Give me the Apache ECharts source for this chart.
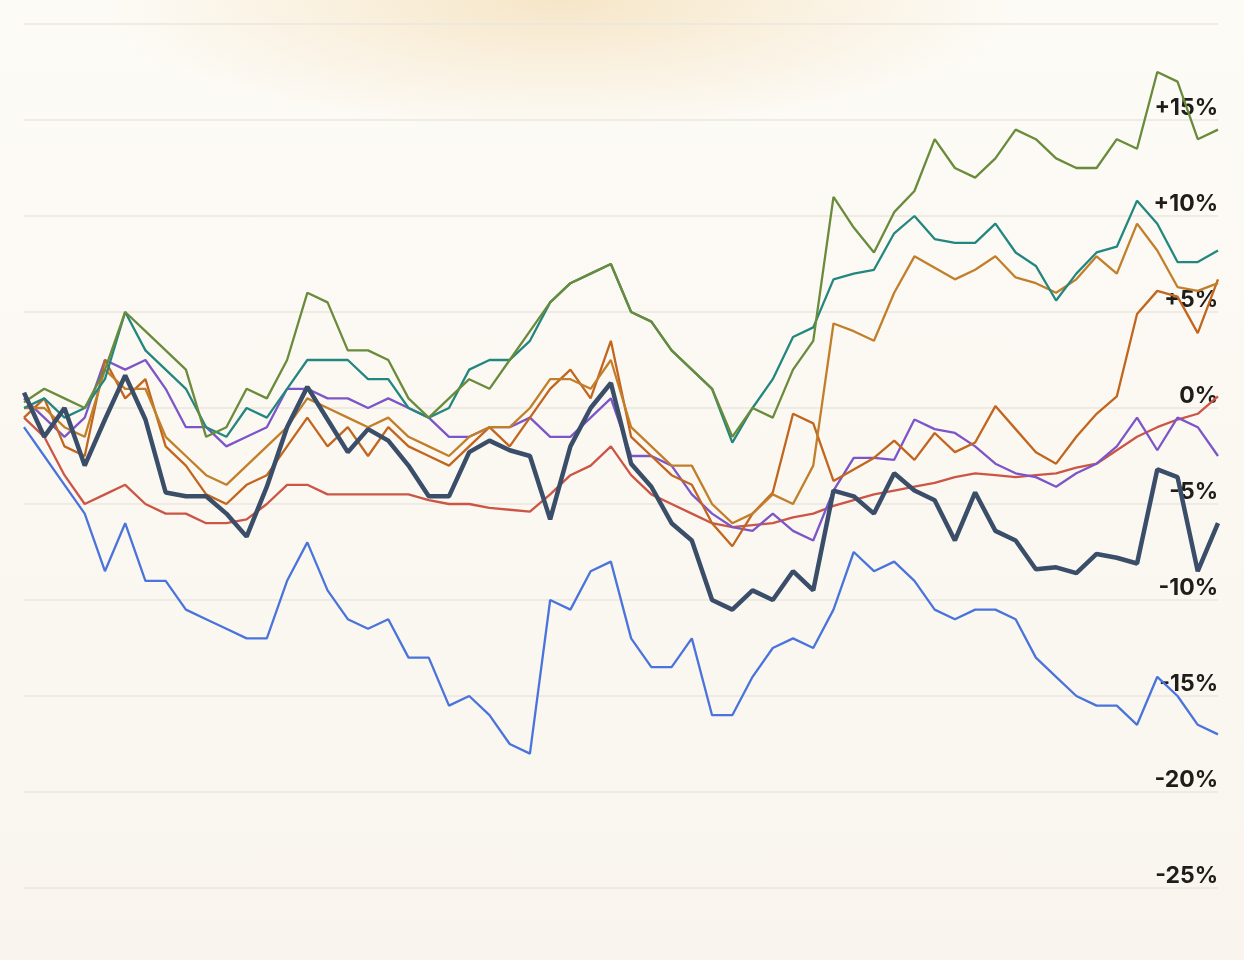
<!DOCTYPE html>
<html>
<head>
<meta charset="utf-8">
<script src="https://cdn.jsdelivr.net/npm/echarts@6/dist/echarts.min.js"></script>
<style>
html, body { margin:0; padding:0; }
body {
	width:1244px; height:960px;
	background: radial-gradient(ellipse 460px 130px at 560px 0px, #f6e6c8 0%, rgba(248,232,204,0) 100%), linear-gradient(#fdfbf6, #f9f5ee);
}
#main { width:1244px; height:960px; }
</style>
</head>
<body>
<div id="main"></div>
<script>
// 数据（单位 %）
var green = [0.3,1,0.5,0,2,5,4,3,2,-1.5, -1,1,0.5,2.5,6,5.5,3,3,2.5,0.5, -0.5,0.5,1.5,1,2.5,4,5.5,6.5,7,7.5,
	5,4.5,3,2,1,-1.5,0,-0.5,2,3.5, 11,9.4,8.1,10.2,11.3,14,12.5,12,13,14.5, 14,13,12.5,12.5,14,13.5,17.5,17,14,14.5];
var teal = [0,0.5,-0.5,0,1.5,5,3,2,1,-1, -1.5,0,-0.5,1,2.5,2.5,2.5,1.5,1.5,0, -0.5,0,2,2.5,2.5,3.5,5.5,6.5,7,7.5,
	5,4.5,3,2,1,-1.8,0,1.5,3.7,4.2, 6.7,7,7.2,9.1,10,8.8,8.6,8.6,9.6,8.1, 7.4,5.6,7,8.1,8.4,10.8,9.6,7.6,7.6,8.2];
var orangeA = [0,0,-1,-1.5,2,1,1,-1.5,-2.5,-3.5, -4,-3,-2,-1,0.5,0,-0.5,-1,-0.5,-1.5, -2,-2.5,-1.5,-1,-1,0,1.5,1.5,1,2.5,
	-1,-2,-3,-3,-5,-6,-5.5,-4.5,-5,-3, 4.4,4,3.5,6,7.9,7.3,6.7,7.2,7.9,6.8, 6.5,6,6.7,7.9,7,9.6,8.2,6.3,6.1,6.5];
var orangeB = [-0.5,0.5,-2,-2.5,2.5,0.5,1.5,-2,-3,-4.5, -5,-4,-3.5,-2,-0.5,-2,-1,-2.5,-1,-2, -2.5,-3,-2,-1,-2,-0.5,1,2,0.5,3.5,
	-1.5,-2.5,-3.5,-4,-6,-7.2,-5.5,-4.4,-0.3,-0.8, -3.8,-3.2,-2.6,-1.7,-2.7,-1.3,-2.3,-1.8,0.1,-1.1, -2.3,-2.9,-1.5,-0.3,0.6,4.9,6.1,5.8,3.9,6.7];
var purple = [0.5,-0.5,-1.5,-0.5,2.5,2,2.5,1,-1,-1, -2,-1.5,-1,1,1,0.5,0.5,0,0.5,0, -0.5,-1.5,-1.5,-1,-1,-0.5,-1.5,-1.5,-0.5,0.5,
	-2.5,-2.5,-3,-4.5,-5.5,-6.2,-6.4,-5.5,-6.4,-6.9, -4.3,-2.6,-2.6,-2.7,-0.6,-1.1,-1.3,-2,-2.9,-3.4, -3.6,-4.1,-3.4,-2.9,-2,-0.5,-2.2,-0.5,-1,-2.5];
var red = [-0.5,-1.5,-3.5,-5,-4.5,-4,-5,-5.5,-5.5,-6, -6,-5.8,-5,-4,-4,-4.5,-4.5,-4.5,-4.5,-4.5, -4.8,-5,-5,-5.2,-5.3,-5.4,-4.5,-3.5,-3,-2,
	-3.5,-4.5,-5,-5.5,-6,-6.2,-6.1,-6,-5.7,-5.5, -5.1,-4.8,-4.5,-4.3,-4.1,-3.9,-3.6,-3.4,-3.5,-3.6, -3.5,-3.4,-3.1,-2.9,-2.2,-1.5,-1,-0.6,-0.3,0.6];
var navy = [0.8,-1.5,0,-3,-0.6,1.7,-0.6,-4.4,-4.6,-4.6, -5.5,-6.7,-4.1,-1,1.1,-0.6,-2.3,-1.1,-1.7,-3, -4.6,-4.6,-2.3,-1.7,-2.2,-2.5,-5.8,-2,0,1.3,
	-2.9,-4.1,-6,-6.9,-10,-10.5,-9.5,-10,-8.5,-9.5, -4.3,-4.6,-5.5,-3.4,-4.3,-4.8,-6.9,-4.4,-6.4,-6.9, -8.4,-8.3,-8.6,-7.6,-7.8,-8.1,-3.2,-3.6,-8.5,-6];
var blue = [-1,-2.5,-4,-5.5,-8.5,-6,-9,-9,-10.5,-11, -11.5,-12,-12,-9,-7,-9.5,-11,-11.5,-11,-13, -13,-15.5,-15,-16,-17.5,-18,-10,-10.5,-8.5,-8,
	-12,-13.5,-13.5,-12,-16,-16,-14,-12.5,-12,-12.5, -10.5,-7.5,-8.5,-8,-9,-10.5,-11,-10.5,-10.5,-11, -13,-14,-15,-15.5,-15.5,-16.5,-14,-15,-16.5,-17];
var days = [];
for (var i = 0; i < green.length; i++) { days.push(i); }

var chart = echarts.init(document.getElementById('main'));

function line(data, color, width) {
	return { type:'line', data:data, symbol:'none', animation:false,
		lineStyle:{ color:color, width:width }, itemStyle:{ color:color } };
}

var option = {
	backgroundColor: 'transparent',
	grid: { left:24, right:26, top:24, bottom:72 },
	xAxis: { type:'category', data:days, boundaryGap:false, show:false },
	yAxis: {
		type:'value', position:'right', min:-25, max:20, interval:5,
		axisLine:{ show:false }, axisTick:{ show:false },
		splitLine:{ lineStyle:{ color:'#ebe6de', width:1.5 } },
		axisLabel:{
			inside:true, verticalAlign:'bottom', margin:0,
			color:'#1f1d1a', fontSize:23, fontWeight:'bold', fontFamily:'Inter',
			formatter: function (v) {
				if (v === 20) return '';
				return (v > 0 ? '+' : '') + v + '%';
			}
		}
	},
	series: [
		line(blue, '#4a74dc', 2.3),
		line(red, '#cc5646', 2.3),
		line(purple, '#7c56c8', 2.3),
		line(orangeB, '#c2661f', 2.3),
		line(orangeA, '#c27f2b', 2.3),
		line(teal, '#24877f', 2.3),
		line(green, '#6a8b3b', 2.3),
		line(navy, '#3b4e69', 4.5)
	]
};
chart.setOption(option);
</script>
</body>
</html>
